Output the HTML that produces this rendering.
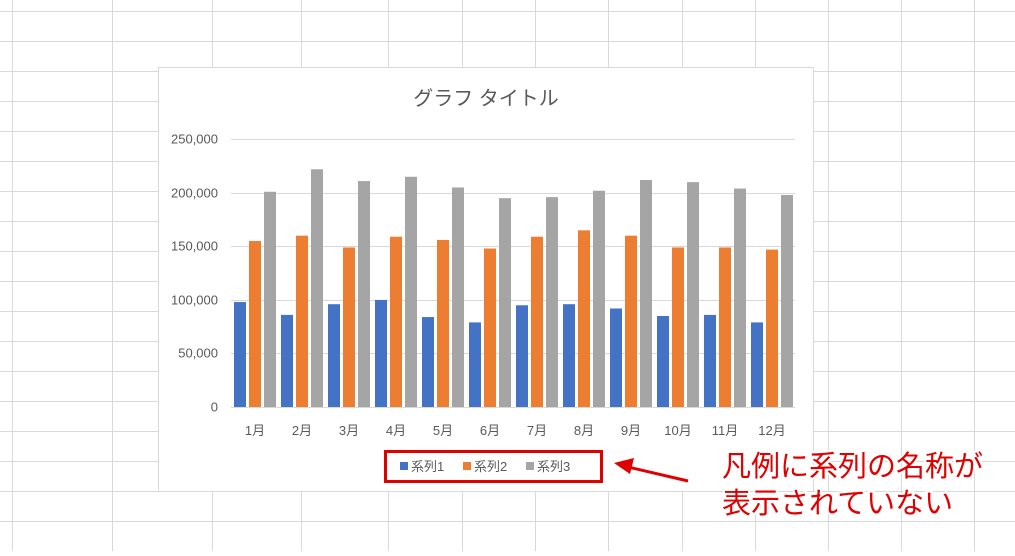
<!DOCTYPE html>
<html><head><meta charset="utf-8"><style>
body{margin:0;width:1015px;height:551px;overflow:hidden;background:#fff;font-family:"Liberation Sans","Noto Sans CJK JP",sans-serif}
</style></head><body>
<svg width="1015" height="551" xmlns="http://www.w3.org/2000/svg" font-family="Liberation Sans, Noto Sans CJK JP, sans-serif">
<g stroke="#d9d9d9" stroke-width="1" id="grid"></g>
<rect x="158.5" y="67.5" width="655" height="424" fill="#fff" stroke="#d9d9d9"/>
<text x="486" y="105" text-anchor="middle" font-size="20" fill="#595959">グラフ タイトル</text>
<g id="plot"></g>
<rect x="385.5" y="451.5" width="216" height="30" fill="none" stroke="#e00000" stroke-width="3"/>
<rect x="400" y="462" width="8" height="8" fill="#4472c4"/><text x="411" y="471" font-size="13" fill="#595959">系列1</text>
<rect x="463" y="462" width="8" height="8" fill="#ed7d31"/><text x="474" y="471" font-size="13" fill="#595959">系列2</text>
<rect x="526" y="462" width="8" height="8" fill="#a5a5a5"/><text x="537" y="471" font-size="13" fill="#595959">系列3</text>
<line x1="688" y1="481" x2="628" y2="467" stroke="#e00000" stroke-width="3"/>
<polygon points="614,463 634,458 630,474" fill="#e00000"/>
<g font-size="29" fill="#e00000" stroke="#fff" stroke-width="4" paint-order="stroke" font-family="Noto Sans CJK JP, sans-serif">
<text x="722" y="476">凡例に系列の名称が</text>
<text x="722" y="513">表示されていない</text></g>
</svg>
<script>
const g=document.getElementById('grid');let s='';
[12,112,212,301,388,462,535,608,682,755,828,901,974].forEach(x=>s+=`<line x1="${x+.5}" y1="0" x2="${x+.5}" y2="551"/>`);
for(let y=11;y<551;y+=30)s+=`<line x1="0" y1="${y+.5}" x2="1015" y2="${y+.5}"/>`;
g.innerHTML=s;
const d=[[98,155,201],[86,160,222],[96,149,211],[100,159,215],[84,156,205],[79,148,195],[95,159,196],[96,165,202],[92,160,212],[85,149,210],[86,149,204],[79,147,198]];
const c=['#4472c4','#ed7d31','#a5a5a5'];const y0=407,k=267.7/250;let p='';
for(let i=0;i<=5;i++){const y=Math.round(y0-i*50*k)+.5;p+=`<line x1="231" y1="${y}" x2="795" y2="${y}" stroke="#d9d9d9"/>`;
p+=`<text x="218" y="${y+4}" text-anchor="end" font-size="13" fill="#595959">${i?(i*50)+',000':'0'}</text>`;}
d.forEach((v,i)=>{v.forEach((val,j)=>{const h=val*k;p+=`<rect x="${234+i*47+j*15}" y="${y0-h}" width="12" height="${h}" fill="${c[j]}"/>`;});
p+=`<text x="${255+i*47}" y="435" text-anchor="middle" font-size="13" fill="#595959">${i+1}月</text>`;});
document.getElementById('plot').innerHTML=p;
</script>
</body></html>
